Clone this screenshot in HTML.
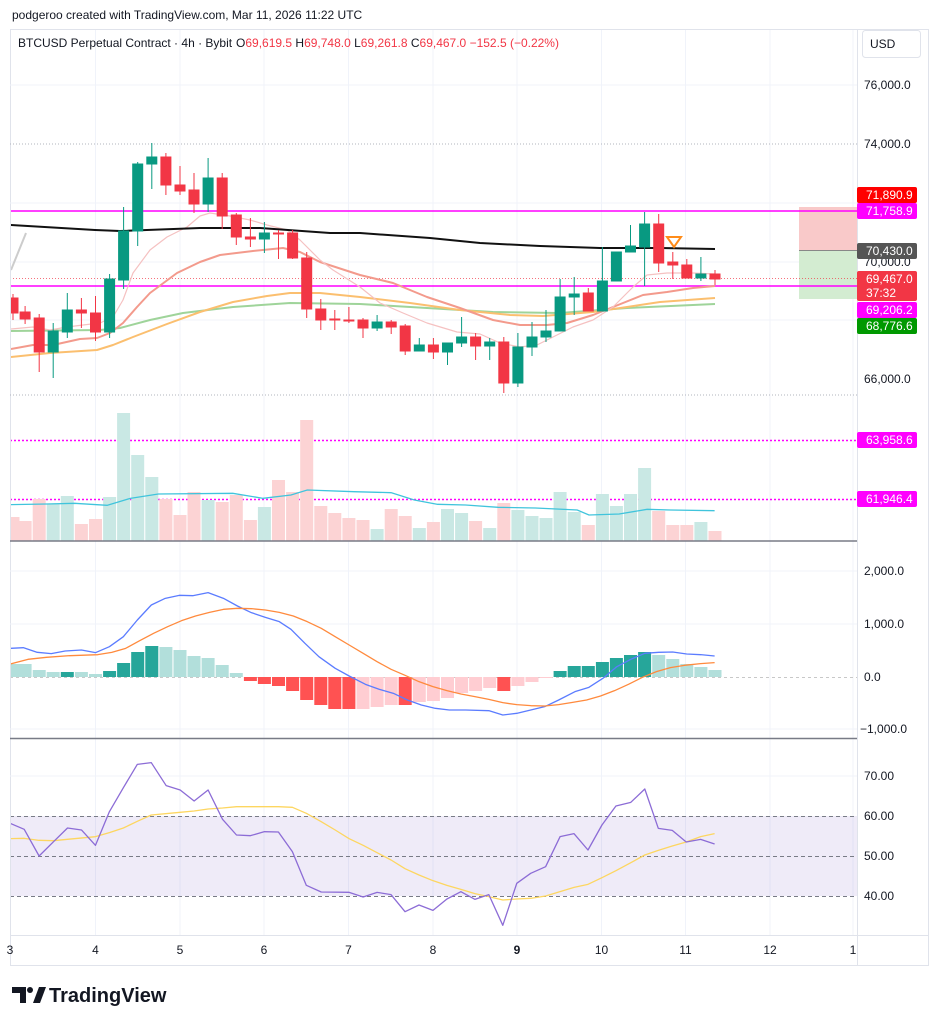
<!DOCTYPE html>
<html><head><meta charset="utf-8"><style>
body{margin:0;background:#fff;width:939px;height:1024px;overflow:hidden;font-family:"Liberation Sans",sans-serif}
svg{position:absolute;left:0;top:0}
text{font-family:"Liberation Sans",sans-serif}
</style></head><body>
<svg width="939" height="1024" viewBox="0 0 939 1024">
<defs><clipPath id="c"><rect x="11" y="30" width="846" height="905"/></clipPath></defs>
<rect width="939" height="1024" fill="#fff"/>
<text x="12" y="19" font-size="12" fill="#131722">podgeroo created with TradingView.com, Mar 11, 2026 11:22 UTC</text>
<rect x="10.5" y="29.5" width="918" height="936" fill="none" stroke="#e0e3eb"/>
<line x1="857.5" y1="30" x2="857.5" y2="965" stroke="#e0e3eb"/>
<line x1="10" y1="935.5" x2="929" y2="935.5" stroke="#e0e3eb"/>
<g stroke="#f0f3fa">
<path d="M95.5 30V935M180 30V935M264 30V935M348.5 30V935M433 30V935M517 30V935M601.5 30V935M685.5 30V935M770 30V935M853 30V935"/>
<path d="M10 85H857M10 203H857M10 262H857M10 320H857M10 571H857M10 624H857M10 729H857M10 776H857"/>
</g>
<g stroke="#b2b5be" stroke-dasharray="1,2"><path d="M10 144H857M10 395H857"/></g>
<text x="18" y="47" font-size="12" fill="#131722">BTCUSD Perpetual Contract · 4h · Bybit</text>
<text x="236" y="47" font-size="12" fill="#131722">O<tspan fill="#f23645">69,619.5</tspan> H<tspan fill="#f23645">69,748.0</tspan> L<tspan fill="#f23645">69,261.8</tspan> C<tspan fill="#f23645">69,467.0</tspan> <tspan fill="#f23645">−152.5 (−0.22%)</tspan></text>
<rect x="862.5" y="30.5" width="58" height="27" rx="3" fill="#fff" stroke="#e0e3eb"/>
<text x="870" y="48" font-size="12" fill="#131722">USD</text>
<g clip-path="url(#c)">
<rect x="799" y="207" width="58" height="44" fill="#f9c9c9"/>
<rect x="799" y="251" width="58" height="48" fill="#d3ecd1"/>
<line x1="799" y1="250.5" x2="857" y2="250.5" stroke="#888"/>
<line x1="10" y1="211" x2="857" y2="211" stroke="#ff00ff" stroke-width="1.5"/>
<line x1="10" y1="286" x2="857" y2="286" stroke="#ff00ff" stroke-width="1.5"/>
<line x1="10" y1="278.5" x2="857" y2="278.5" stroke="#f23645" stroke-dasharray="1,2" opacity=".7"/>
<g stroke="#ff00ff" stroke-dasharray="2,2" stroke-width="1.5"><path d="M10 440.5H857M10 499.5H857"/></g>
<g fill="none" stroke-linejoin="round">
<polyline stroke="#9fd49a" stroke-width="2" points="11,331 100,330 120,328 150,320 183,313 233,307 290,303 360,304 427,308 493,312 560,313 627,308 715,304"/>
<polyline stroke="#fbbf6f" stroke-width="2" points="11,357 50,353 97,350 113,345 133,337 167,324 200,312 233,302 267,296 290,293 320,293 360,297 410,303 460,310 510,315 543,316 593,312 627,307 660,302 715,298"/>
<polyline stroke="#f39a8c" stroke-width="2" points="11,349 33,345 53,345 80,339 97,338 110,333 123,323 137,307 150,293 177,273 200,262 220,255 253,251 283,248 300,252 320,262 360,275 393,283 427,297 460,308 493,320 520,325 547,325 567,323 593,315 613,307 643,295 667,292 693,288 715,286"/>
<polyline stroke="#f5c1c1" stroke-width="1.2" points="11,329 33,327 50,330 67,327 83,325 100,323 113,317 123,300 133,273 150,250 167,237 187,227 200,216 210,213 230,216 250,220 267,225 287,230 300,240 320,260 333,270 360,287 380,303 403,313 427,323 457,332 480,334 500,343 520,347 537,345 553,337 573,327 593,320 613,307 633,287 647,275 667,273 693,273 715,274"/>
<polyline stroke="#111" stroke-width="2" points="10,225 95,230 120,231 200,228 260,228 330,233 360,233 430,238 480,243 540,246 600,248 660,248 715,249"/>
<line x1="11" y1="270" x2="26" y2="233" stroke="#ccc" stroke-width="2"/>
</g>
<g stroke-width="1">
<g stroke="#f23645" fill="#f23645">
<path d="M13 294V320M25.1 306V324M39.2 314V372M81.4 298V328M95.5 296V341M165.9 153V195M180 166V195M194 173V213M222.2 173V229M236.3 213V245M250.4 218V247M278.5 230V259M292.6 230V259M306.7 252V318M320.8 299V330M334.8 310V330M348.9 307V323M363 318V338M391.2 320V334M405.2 324V355M433.4 338V359M475.6 333V360M503.8 337V393M588.3 288V311M658.7 214V272M672.8 252V279M686.8 259V278M715 270V285"/>
<rect x="8" y="298" width="10" height="15"/><rect x="20.1" y="312" width="10" height="7"/><rect x="34.2" y="318" width="10" height="34"/><rect x="76.4" y="310" width="10" height="3"/><rect x="90.5" y="313" width="10" height="19"/><rect x="160.9" y="157" width="10" height="28"/><rect x="175" y="185" width="10" height="6"/><rect x="189" y="190" width="10" height="14"/><rect x="217.2" y="178" width="10" height="38"/><rect x="231.3" y="215" width="10" height="22"/><rect x="245.4" y="237" width="10" height="2"/><rect x="273.5" y="233" width="10" height="1"/><rect x="287.6" y="233" width="10" height="25"/><rect x="301.7" y="258" width="10" height="51"/><rect x="315.8" y="309" width="10" height="11"/><rect x="329.8" y="319" width="10" height="1"/><rect x="343.9" y="320" width="10" height="1"/><rect x="358" y="320" width="10" height="8"/><rect x="386.2" y="322" width="10" height="5"/><rect x="400.2" y="326" width="10" height="25"/><rect x="428.4" y="345" width="10" height="7"/><rect x="470.6" y="337" width="10" height="9"/><rect x="498.8" y="342" width="10" height="41"/><rect x="583.3" y="293" width="10" height="18"/><rect x="653.7" y="224" width="10" height="39"/><rect x="667.8" y="262" width="10" height="3"/><rect x="681.8" y="265" width="10" height="13"/><rect x="710" y="274" width="10" height="5"/>
</g>
<g stroke="#089981" fill="#089981">
<path d="M53.2 323V378M67.3 293V338M109.6 274V338M123.6 207V289M137.7 162V246M151.8 143V189M208.1 158V212M264.4 222V253M377.1 315V331M419.3 338V351M447.5 343V365M461.6 317V347M489.7 338V360M517.9 333V387M532 322V356M546 310V342M560.1 279V331M574.2 277V315M602.4 247V311M616.4 252V281M630.5 225V252M644.6 212V286M700.9 257V281"/>
<rect x="48.2" y="331" width="10" height="21"/><rect x="62.3" y="310" width="10" height="22"/><rect x="104.6" y="279" width="10" height="53"/><rect x="118.6" y="231" width="10" height="49"/><rect x="132.7" y="164" width="10" height="67"/><rect x="146.8" y="157" width="10" height="7"/><rect x="203.1" y="178" width="10" height="26"/><rect x="259.4" y="233" width="10" height="6"/><rect x="372.1" y="322" width="10" height="6"/><rect x="414.3" y="345" width="10" height="6"/><rect x="442.5" y="343" width="10" height="9"/><rect x="456.6" y="337" width="10" height="6"/><rect x="484.7" y="342" width="10" height="4"/><rect x="512.9" y="347" width="10" height="36"/><rect x="527" y="337" width="10" height="10"/><rect x="541" y="331" width="10" height="6"/><rect x="555.1" y="297" width="10" height="34"/><rect x="569.2" y="294" width="10" height="3"/><rect x="597.4" y="281" width="10" height="30"/><rect x="611.4" y="252" width="10" height="29"/><rect x="625.5" y="246" width="10" height="6"/><rect x="639.6" y="224" width="10" height="23"/><rect x="695.9" y="274" width="10" height="4"/>
</g>
</g>
<path d="M667 237h14l-7 10z" fill="none" stroke="#ff8c1a" stroke-width="2"/>
<g fill="#fcd3d4">
<rect x="6.5" y="517" width="13" height="24"/><rect x="18.6" y="521" width="13" height="20"/><rect x="32.7" y="499" width="13" height="42"/><rect x="74.9" y="524" width="13" height="17"/><rect x="89" y="519" width="13" height="22"/><rect x="159.4" y="499" width="13" height="42"/><rect x="173.5" y="515" width="13" height="26"/><rect x="187.5" y="492" width="13" height="49"/><rect x="215.7" y="502" width="13" height="39"/><rect x="229.8" y="495" width="13" height="46"/><rect x="243.9" y="520" width="13" height="21"/><rect x="272" y="480" width="13" height="61"/><rect x="286.1" y="492" width="13" height="49"/><rect x="300.2" y="420" width="13" height="121"/><rect x="314.3" y="506" width="13" height="35"/><rect x="328.3" y="513" width="13" height="28"/><rect x="342.4" y="518" width="13" height="23"/><rect x="356.5" y="520" width="13" height="21"/><rect x="384.7" y="509" width="13" height="32"/><rect x="398.7" y="516" width="13" height="25"/><rect x="426.9" y="522" width="13" height="19"/><rect x="469.1" y="521" width="13" height="20"/><rect x="497.3" y="503" width="13" height="38"/><rect x="581.8" y="525" width="13" height="16"/><rect x="652.2" y="511" width="13" height="30"/><rect x="666.3" y="525" width="13" height="16"/><rect x="680.3" y="525" width="13" height="16"/><rect x="708.5" y="531" width="13" height="10"/>
</g>
<g fill="#c9e8e4">
<rect x="46.7" y="504" width="13" height="37"/><rect x="60.8" y="496" width="13" height="45"/><rect x="103.1" y="497" width="13" height="44"/><rect x="117.1" y="413" width="13" height="128"/><rect x="131.2" y="455" width="13" height="86"/><rect x="145.3" y="477" width="13" height="64"/><rect x="201.6" y="500" width="13" height="41"/><rect x="257.9" y="507" width="13" height="34"/><rect x="370.6" y="529" width="13" height="12"/><rect x="412.8" y="528" width="13" height="13"/><rect x="441" y="509" width="13" height="32"/><rect x="455.1" y="513" width="13" height="28"/><rect x="483.2" y="528" width="13" height="13"/><rect x="511.4" y="510" width="13" height="31"/><rect x="525.5" y="516" width="13" height="25"/><rect x="539.5" y="518" width="13" height="23"/><rect x="553.6" y="492" width="13" height="49"/><rect x="567.7" y="512" width="13" height="29"/><rect x="595.9" y="494" width="13" height="47"/><rect x="609.9" y="506" width="13" height="35"/><rect x="624" y="494" width="13" height="47"/><rect x="638.1" y="468" width="13" height="73"/><rect x="694.4" y="522" width="13" height="19"/>
</g>
<g transform="translate(0,400) scale(0.46555,0.33333)" fill="none">
<polyline vector-effect="non-scaling-stroke" stroke="#40c4dc" stroke-width="1.3" points="22,314 100,312 160,310 230,316 280,295 340,282 500,280 565,295 625,285 660,270 760,275 840,278 890,300 940,313 1000,315 1070,322 1150,324 1240,330 1265,345 1330,342 1390,328 1440,330 1535,332"/>
</g>
<line x1="10" y1="677.5" x2="857" y2="677.5" stroke="#c8c8c8" stroke-dasharray="3,3"/>
<g fill="#b2dfdb">
<rect x="6.5" y="664" width="13" height="13"/><rect x="18.6" y="664" width="13" height="13"/><rect x="32.7" y="670" width="13" height="7"/><rect x="46.7" y="672" width="13" height="5"/><rect x="74.9" y="672" width="13" height="5"/><rect x="89" y="674" width="13" height="3"/><rect x="159.4" y="647" width="13" height="30"/><rect x="173.5" y="650" width="13" height="27"/><rect x="187.5" y="656" width="13" height="21"/><rect x="201.6" y="658" width="13" height="19"/><rect x="215.7" y="665" width="13" height="12"/><rect x="229.8" y="673" width="13" height="4"/><rect x="652.2" y="655" width="13" height="22"/><rect x="666.3" y="659" width="13" height="18"/><rect x="680.3" y="664" width="13" height="13"/><rect x="694.4" y="667" width="13" height="10"/><rect x="708.5" y="670" width="13" height="7"/>
</g>
<g fill="#26a69a">
<rect x="60.8" y="672" width="13" height="5"/><rect x="103.1" y="671" width="13" height="6"/><rect x="117.1" y="663" width="13" height="14"/><rect x="131.2" y="652" width="13" height="25"/><rect x="145.3" y="646" width="13" height="31"/><rect x="553.6" y="671" width="13" height="6"/><rect x="567.7" y="666" width="13" height="11"/><rect x="581.8" y="666" width="13" height="11"/><rect x="595.9" y="662" width="13" height="15"/><rect x="609.9" y="658" width="13" height="19"/><rect x="624" y="655" width="13" height="22"/><rect x="638.1" y="652" width="13" height="25"/>
</g>
<g fill="#ff5252">
<rect x="243.9" y="677" width="13" height="4"/><rect x="257.9" y="677" width="13" height="7"/><rect x="272" y="677" width="13" height="9"/><rect x="286.1" y="677" width="13" height="14"/><rect x="300.2" y="677" width="13" height="23"/><rect x="314.3" y="677" width="13" height="28"/><rect x="328.3" y="677" width="13" height="32"/><rect x="342.4" y="677" width="13" height="32"/><rect x="398.7" y="677" width="13" height="28"/><rect x="497.3" y="677" width="13" height="14"/>
</g>
<g fill="#ffcdd2">
<rect x="356.5" y="677" width="13" height="32"/><rect x="370.6" y="677" width="13" height="30"/><rect x="384.7" y="677" width="13" height="28"/><rect x="412.8" y="677" width="13" height="25"/><rect x="426.9" y="677" width="13" height="24"/><rect x="441" y="677" width="13" height="21"/><rect x="455.1" y="677" width="13" height="16"/><rect x="469.1" y="677" width="13" height="14"/><rect x="483.2" y="677" width="13" height="11"/><rect x="511.4" y="677" width="13" height="9"/><rect x="525.5" y="677" width="13" height="5"/><rect x="539.5" y="677" width="13" height="1"/>
</g>
<g transform="translate(0,400) scale(0.46555,0.33333)" fill="none" stroke-linejoin="round">
<polyline vector-effect="non-scaling-stroke" stroke="#5b7cff" stroke-width="1.3" points="22,745 50,743 80,757 110,761 140,753 175,750 205,758 235,740 265,710 295,660 325,615 355,595 385,586 415,587 447,578 480,595 510,618 540,638 570,652 600,665 625,688 655,730 685,770 720,805 750,828 785,853 815,868 845,880 875,900 905,915 935,925 965,930 1000,930 1050,932 1080,945 1110,940 1140,930 1170,920 1200,900 1235,875 1265,862 1295,835 1325,800 1355,778 1385,760 1415,757 1445,756 1475,762 1505,764 1535,768"/>
<polyline vector-effect="non-scaling-stroke" stroke="#ff8a3d" stroke-width="1.3" points="22,792 60,778 100,772 150,767 210,764 240,757 270,745 300,722 330,700 360,680 390,662 420,648 450,637 480,628 510,625 540,626 570,630 600,637 630,648 660,665 690,685 720,710 750,735 780,760 810,785 840,808 870,826 900,845 930,860 960,872 990,882 1020,890 1050,898 1080,908 1110,914 1140,917 1170,918 1200,914 1230,907 1260,900 1290,888 1320,872 1350,853 1380,832 1410,815 1440,803 1470,796 1505,791 1535,788"/>
</g>
<rect x="10" y="816" width="847" height="80" fill="#7e57c2" opacity=".12"/>
<g stroke="#787b86" stroke-dasharray="4,3"><path d="M10 816.5H857M10 856.5H857M10 896.5H857"/></g>
<g transform="translate(0,740) scale(0.46555,0.33333)" fill="none" stroke-linejoin="round">
<polyline vector-effect="non-scaling-stroke" stroke="#fdd660" stroke-width="1.3" points="22,296 52,295 84,301 115,302 145,298 205,290 235,278 265,264 295,244 325,225 387,217 417,213 447,207 478,204 508,200 538,200 598,200 628,202 658,220 690,245 720,270 750,296 780,316 810,338 840,360 870,386 900,405 930,422 960,436 990,448 1020,461 1050,470 1080,480 1110,477 1140,475 1172,468 1203,455 1233,442 1263,433 1293,413 1323,392 1355,368 1385,345 1414,331 1444,318 1474,306 1505,290 1535,281"/>
<polyline vector-effect="non-scaling-stroke" stroke="#8c6cd6" stroke-width="1.3" points="22,250 52,268 84,348 115,305 145,264 175,270 205,316 235,215 265,143 295,73 325,68 357,137 387,150 417,183 447,150 478,238 508,285 538,287 568,275 598,276 628,335 658,436 690,456 750,457 780,471 810,457 840,464 870,515 900,495 930,511 960,477 990,455 1020,478 1050,464 1080,556 1110,430 1140,400 1172,380 1203,290 1233,281 1263,330 1293,255 1323,198 1355,187 1385,147 1414,265 1444,271 1474,306 1505,298 1535,312"/>
</g>
</g>
<line x1="10" y1="541" x2="857" y2="541" stroke="#787b86" stroke-width="1.5"/>
<line x1="10" y1="738.5" x2="857" y2="738.5" stroke="#787b86" stroke-width="1.5"/>
<g font-size="12" fill="#131722">
<text x="864" y="89">76,000.0</text>
<text x="864" y="148">74,000.0</text>
<text x="864" y="266">70,000.0</text>
<text x="864" y="383">66,000.0</text>
<text x="864" y="575">2,000.0</text>
<text x="864" y="628">1,000.0</text>
<text x="864" y="681">0.0</text>
<text x="860" y="733">−1,000.0</text>
<text x="864" y="780">70.00</text>
<text x="864" y="820">60.00</text>
<text x="864" y="860">50.00</text>
<text x="864" y="900">40.00</text>
</g>
<g font-size="12" fill="#fff">
<rect x="857" y="187" width="60" height="16" rx="2" fill="#ff0000"/><text x="866" y="199">71,890.9</text>
<rect x="857" y="203" width="60" height="16" rx="2" fill="#ff00ff"/><text x="866" y="215">71,758.9</text>
<rect x="857" y="243" width="60" height="16" rx="2" fill="#555"/><text x="866" y="255">70,430.0</text>
<rect x="857" y="271" width="60" height="30" rx="2" fill="#f23645"/><text x="866" y="283">69,467.0</text><text x="866" y="297">37:32</text>
<rect x="857" y="302" width="60" height="16" rx="2" fill="#ff00ff"/><text x="866" y="314">69,206.2</text>
<rect x="857" y="318" width="60" height="16" rx="2" fill="#009900"/><text x="866" y="330">68,776.6</text>
<rect x="857" y="432" width="60" height="16" rx="2" fill="#ff00ff"/><text x="866" y="444">63,958.6</text>
<rect x="857" y="491" width="60" height="16" rx="2" fill="#ff00ff"/><text x="866" y="503">61,946.4</text>
</g>
<g font-size="12" fill="#131722" text-anchor="middle">
<text x="10" y="954">3</text><text x="95.5" y="954">4</text><text x="180" y="954">5</text><text x="264" y="954">6</text><text x="348.5" y="954">7</text><text x="433" y="954">8</text><text x="517" y="954" font-weight="bold">9</text><text x="601.5" y="954">10</text><text x="685.5" y="954">11</text><text x="770" y="954">12</text><text x="853" y="954">1</text>
</g>
<g fill="#131722">
<path d="M12 987h14v16h-6v-10h-8z"/><circle cx="30" cy="990" r="3"/><path d="M33 1003l6-16h7l-6 16z"/>
</g>
<text x="49" y="1002" font-size="20" font-weight="bold" fill="#131722">TradingView</text>
</svg>
</body></html>
